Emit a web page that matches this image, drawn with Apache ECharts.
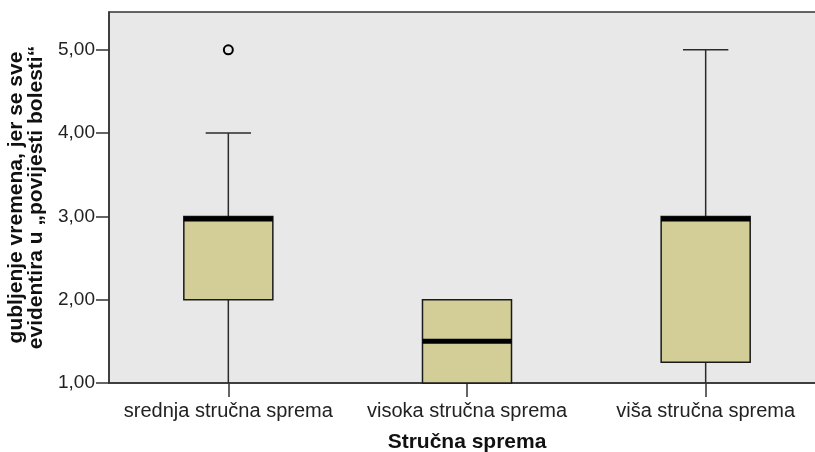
<!DOCTYPE html>
<html>
<head>
<meta charset="utf-8">
<script src="https://cdn.jsdelivr.net/npm/echarts@6/dist/echarts.min.js"></script>
<style>
html,body{margin:0;padding:0;background:#fff;}
#chart{width:815px;height:452px;}
</style>
</head>
<body>
<div id="chart"></div>
<script>
const categories = ['srednja stručna sprema', 'visoka stručna sprema', 'viša stručna sprema'];
const whiskerMin = [1, 1, 1];
const q1 = [2, 1, 1.25];
const median = [3, 1.5, 3];
const q3 = [3, 2, 3];
const whiskerMax = [4, 2, 5];
const outliers = [[0, 5]];
const yTicks = [1, 2, 3, 4, 5];

const FONT = "'Liberation Sans', Arial, sans-serif";
const boxData = categories.map((c, i) => [i, whiskerMin[i], q1[i], median[i], q3[i], whiskerMax[i]]);

function renderBox(params, api) {
  const i = api.value(0);
  const vMin = api.value(1), vQ1 = api.value(2), vMed = api.value(3), vQ3 = api.value(4), vMax = api.value(5);
  const band = api.size([1, 0])[0];
  const bw = band * 0.373;
  const cw = band * 0.19;
  const pMin = api.coord([i, vMin]);
  const pQ1 = api.coord([i, vQ1]);
  const pMed = api.coord([i, vMed]);
  const pQ3 = api.coord([i, vQ3]);
  const pMax = api.coord([i, vMax]);
  const x = pMed[0];
  const children = [];
  const lineStyle = { stroke: '#2b2b2b', lineWidth: 1.5 };
  if (vMax > vQ3) {
    children.push({ type: 'line', shape: { x1: x, y1: pQ3[1], x2: x, y2: pMax[1] }, style: lineStyle });
    children.push({ type: 'line', shape: { x1: x - cw / 2, y1: pMax[1], x2: x + cw / 2, y2: pMax[1] }, style: lineStyle });
  }
  if (vMin < vQ1) {
    children.push({ type: 'line', shape: { x1: x, y1: pQ1[1], x2: x, y2: pMin[1] }, style: lineStyle });
  }
  children.push({
    type: 'rect',
    shape: { x: x - bw / 2, y: pQ3[1], width: bw, height: pQ1[1] - pQ3[1] },
    style: { fill: '#d3ce97', stroke: '#1a1a1a', lineWidth: 1.5 }
  });
  let mTop = pMed[1] - 2.5, mBot = pMed[1] + 2.5;
  if (mTop < pQ3[1]) { mTop = pQ3[1]; mBot = mTop + 5; }
  if (mBot > pQ1[1]) { mBot = pQ1[1]; mTop = mBot - 5; }
  children.push({
    type: 'rect',
    shape: { x: x - bw / 2, y: mTop, width: bw, height: mBot - mTop },
    style: { fill: '#000' }
  });
  return { type: 'group', children: children };
}

const chart = echarts.init(document.getElementById('chart'), null, { renderer: 'canvas' });
chart.setOption({
  animation: false,
  backgroundColor: '#ffffff',
  grid: {
    left: 109, top: 12, width: 716, bottom: 69,
    outerBoundsMode: 'none',
    containLabel: false,
    show: true, backgroundColor: '#e8e8e8', borderColor: '#333', borderWidth: 1.5
  },
  xAxis: {
    type: 'category',
    data: categories,
    boundaryGap: true,
    name: 'Stručna sprema',
    nameLocation: 'middle',
    nameGap: 49,
    nameTextStyle: { fontFamily: FONT, fontSize: 21, fontWeight: 'bold', color: '#111' },
    axisLine: { show: true, lineStyle: { color: '#333', width: 1.5 } },
    axisTick: { show: true, alignWithLabel: true, length: 14, lineStyle: { color: '#333', width: 1.5 } },
    axisLabel: { fontFamily: FONT, fontSize: 20, color: '#222', margin: 18, interval: 0, hideOverlap: false }
  },
  yAxis: {
    type: 'value',
    min: 1, max: 5.454, interval: 1,
    name: 'gubljenje vremena, jer se sve\nevidentira u „povijesti bolesti“',
    nameLocation: 'middle',
    nameRotate: 90,
    nameGap: 62,
    nameTextStyle: { fontFamily: FONT, fontSize: 21, fontWeight: 'bold', color: '#111', lineHeight: 20 },
    axisLine: { show: true, lineStyle: { color: '#333', width: 1.5 } },
    axisTick: { show: true, length: 13, customValues: yTicks, lineStyle: { color: '#333', width: 1.5 } },
    axisLabel: {
      fontFamily: FONT, fontSize: 19, color: '#222', margin: 14,
      customValues: yTicks,
      formatter: v => v.toFixed(2).replace('.', ',')
    },
    splitLine: { show: false }
  },
  series: [
    {
      type: 'custom',
      renderItem: renderBox,
      data: boxData,
      encode: { x: 0, y: [1, 2, 3, 4, 5] },
      clip: false,
      z: 2
    },
    {
      type: 'scatter',
      data: outliers,
      symbol: 'circle',
      symbolSize: 9,
      itemStyle: { color: '#e8e8e8', borderColor: '#000', borderWidth: 2, opacity: 1 },
      z: 3
    }
  ]
});
</script>
</body>
</html>
